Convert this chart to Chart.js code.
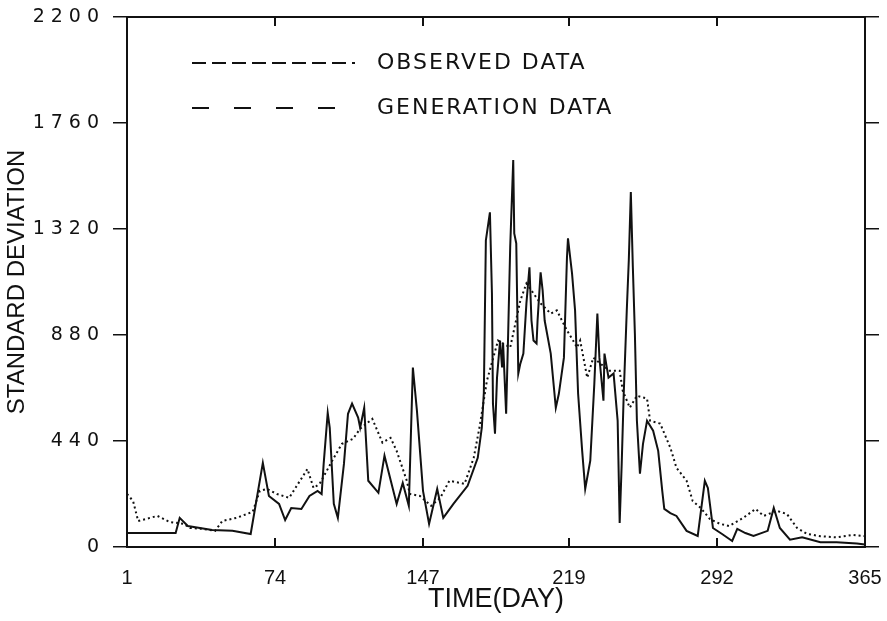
<!DOCTYPE html>
<html>
<head>
<meta charset="utf-8">
<script src="https://cdn.jsdelivr.net/npm/chart.js@4"></script>
<style>
  html, body { margin: 0; padding: 0; background: #fff; }
  #wrap { width: 887px; height: 621px; }
</style>
</head>
<body>
<div id="wrap"><canvas id="chart" width="887" height="621"></canvas></div>
<script>
// ================= DATA =================
const xTicks = [1, 74, 147, 219, 292, 365];
const yTicks = [0, 440, 880, 1320, 1760, 2200];

const obsDays = [1, 25, 27, 31, 43, 53, 62, 68, 71, 76, 79, 82, 87, 91, 95, 97, 98, 100, 101, 103,
  105, 108, 110, 112, 115, 116, 118, 120, 125, 128, 134, 137, 140, 142, 144, 147, 150, 154, 157, 162,
  169, 174, 176, 177, 178, 180, 181, 181.5, 182.5, 183.5, 185, 186, 186.5, 188, 189, 190, 191.5, 192, 193, 194,
  195, 196.5, 198, 199.5, 200.5, 201.5, 203, 203.5, 205, 206, 207, 210, 212.5, 214, 216.5, 218, 218.5, 220.5, 222, 223.5,
  225.5, 227, 229.5, 231.5, 233, 234, 236, 236.5, 238.5, 241, 243, 244, 245, 246, 247.5, 248.5, 249.5, 250.5, 251.5, 252.5,
  254, 255.5, 257.5, 260.5, 263, 265, 266, 269, 272, 277, 282.5, 286, 287.5, 290, 294.5, 299.5, 302, 306, 310, 317,
  320, 323, 328, 334, 343, 351, 361, 365];
const obsValues = [58, 58, 121, 87, 71, 67, 54, 349, 212, 179, 112, 162, 158, 212, 233, 220, 345, 557, 495, 179,
  121, 345, 553, 595, 537, 495, 578, 275, 225, 379, 179, 266, 171, 745, 566, 233, 96, 241, 121, 179,
  254, 370, 495, 640, 1273, 1389, 1052, 595, 470, 703, 857, 745, 845, 553, 886, 1244, 1606, 1302, 1260, 720,
  761, 803, 1011, 1161, 940, 857, 845, 940, 1140, 1065, 940, 803, 578, 636, 786, 1202, 1281, 1136, 982, 636,
  399, 241, 358, 678, 969, 786, 607, 803, 703, 720, 524, 100, 345, 636, 982, 1190, 1473, 1161, 886, 524,
  304, 428, 524, 483, 399, 233, 158, 141, 129, 67, 46, 275, 245, 79, 54, 25, 75, 58, 46, 67,
  162, 79, 30, 40, 20, 20, 15, 10];

const genDays = [1, 4, 6.5, 16, 22, 29, 32, 38.5, 44.5, 48, 55, 63, 66.5, 70, 75, 81, 90, 93, 96, 103,
  107, 112.5, 116, 122, 127, 131, 134, 139, 140.5, 145.5, 151, 155.5, 160, 167.5, 172, 175, 178.5, 184, 190, 195,
  198, 205, 210, 213, 218, 221, 223, 224.5, 228, 231, 234.5, 239, 244, 245.5, 249, 252.5, 257.5, 259, 264, 269,
  272, 277, 280, 284, 288.5, 293.5, 298, 305, 311, 315, 321.5, 326.5, 331.5, 336.5, 343, 351, 359, 365];
const genValues = [220, 191, 108, 129, 104, 96, 79, 75, 67, 108, 121, 146, 233, 241, 220, 204, 324, 245, 262, 370,
  428, 449, 491, 532, 433, 453, 399, 275, 220, 212, 171, 204, 275, 262, 370, 503, 690, 857, 828, 1023,
  1094, 1011, 969, 982, 899, 857, 828, 857, 703, 786, 761, 732, 732, 649, 578, 628, 616, 524, 512, 412,
  329, 275, 191, 162, 116, 96, 87, 121, 158, 129, 150, 137, 79, 54, 45, 40, 50, 45];

const legendLabels = ["OBSERVED DATA", "GENERATION DATA"];

// ================= HELPERS =================
const ink = "#111";
const pts = (xs, ys) => xs.map((x, i) => ({ x: x, y: ys[i] }));
const fixTicks = list => scale => { scale.ticks = list.map(v => ({ value: v })); };
const plain = v => String(v);

// letter spacing only for the y tick labels (drawn before datasets)
const spacing = {
  id: "spacing",
  beforeDraw(c) { c.ctx.letterSpacing = "6px"; },
  afterDatasetsDraw(c) { c.ctx.letterSpacing = "0px"; }
};

// ================= LEGEND =================
const legendBox = {
  id: "legendBox",
  afterDraw(c) {
    const ctx = c.ctx;
    ctx.save();
    ctx.strokeStyle = ink;
    ctx.lineWidth = 2;
    ctx.fillStyle = ink;
    ctx.font = "22px 'DejaVu Sans', sans-serif";
    ctx.letterSpacing = "2px";
    ctx.textBaseline = "middle";
    const rows = [
      { y: 63, dash: [14, 6] },
      { y: 108, dash: [17, 25] }
    ];
    rows.forEach((r, i) => {
      ctx.setLineDash(r.dash);
      ctx.beginPath();
      ctx.moveTo(192, r.y);
      ctx.lineTo(355, r.y);
      ctx.stroke();
      ctx.fillText(legendLabels[i], 377, r.y);
    });
    ctx.restore();
  }
};

// ================= CHART =================
new Chart(document.getElementById("chart"), {
  type: "line",
  data: {
    datasets: [
      {
        label: legendLabels[0],
        data: pts(obsDays, obsValues),
        borderColor: ink,
        borderWidth: 2,
        pointRadius: 0,
        tension: 0
      },
      {
        label: legendLabels[1],
        data: pts(genDays, genValues),
        borderColor: ink,
        borderWidth: 2,
        borderDash: [2, 3],
        pointRadius: 0,
        tension: 0
      }
    ]
  },
  options: {
    responsive: false,
    animation: false,
    layout: { padding: 0 },
    plugins: { legend: { display: false }, tooltip: { enabled: false } },
    scales: {
      x: {
        type: "linear",
        position: "bottom",
        min: 1, max: 365,
        afterBuildTicks: fixTicks(xTicks),
        afterFit: s => { s.height = 74; s.paddingLeft = 0; s.paddingRight = 0; },
        grid: { drawOnChartArea: false, tickLength: -9, color: ink, lineWidth: 2, z: 1 },
        border: { color: ink, width: 2, z: 1 },
        ticks: {
          color: ink, padding: 28, z: 1, maxRotation: 0, callback: plain,
          font: { family: "'Liberation Sans', sans-serif", size: 20 }
        },
        title: {
          display: true, text: "TIME(DAY)", color: ink,
          font: { family: "'Liberation Sans', sans-serif", size: 27 },
          padding: { top: 0, bottom: 5 }
        }
      },
      x2: {
        type: "linear",
        position: "top",
        min: 1, max: 365,
        afterBuildTicks: fixTicks(xTicks),
        afterFit: s => { s.height = 17; s.paddingLeft = 0; s.paddingRight = 0; },
        grid: { drawOnChartArea: false, tickLength: -9, color: ink, lineWidth: 2 },
        border: { color: ink, width: 2 },
        ticks: { display: false }
      },
      y: {
        position: "left",
        min: 0, max: 2200,
        afterBuildTicks: fixTicks(yTicks),
        afterFit: s => { s.width = 127; s.paddingTop = 0; s.paddingBottom = 0; },
        grid: { drawOnChartArea: false, tickLength: 14, color: ink, lineWidth: 1.5, z: 1 },
        border: { color: ink, width: 2, z: 1 },
        ticks: {
          color: ink, padding: 8, callback: plain,
          font: { family: "'DejaVu Sans', sans-serif", size: 19 }
        },
        title: {
          display: true, text: "STANDARD DEVIATION", color: ink,
          font: { family: "'Liberation Sans', sans-serif", size: 24 },
          padding: { top: 3, bottom: 0 }
        }
      },
      y2: {
        position: "right",
        min: 0, max: 2200,
        afterBuildTicks: fixTicks(yTicks),
        afterFit: s => { s.width = 22; s.paddingTop = 0; s.paddingBottom = 0; },
        grid: { drawOnChartArea: false, tickLength: 14, color: ink, lineWidth: 1.5 },
        border: { color: ink, width: 2 },
        ticks: { display: false }
      }
    }
  },
  plugins: [spacing, legendBox]
});
</script>
</body>
</html>
